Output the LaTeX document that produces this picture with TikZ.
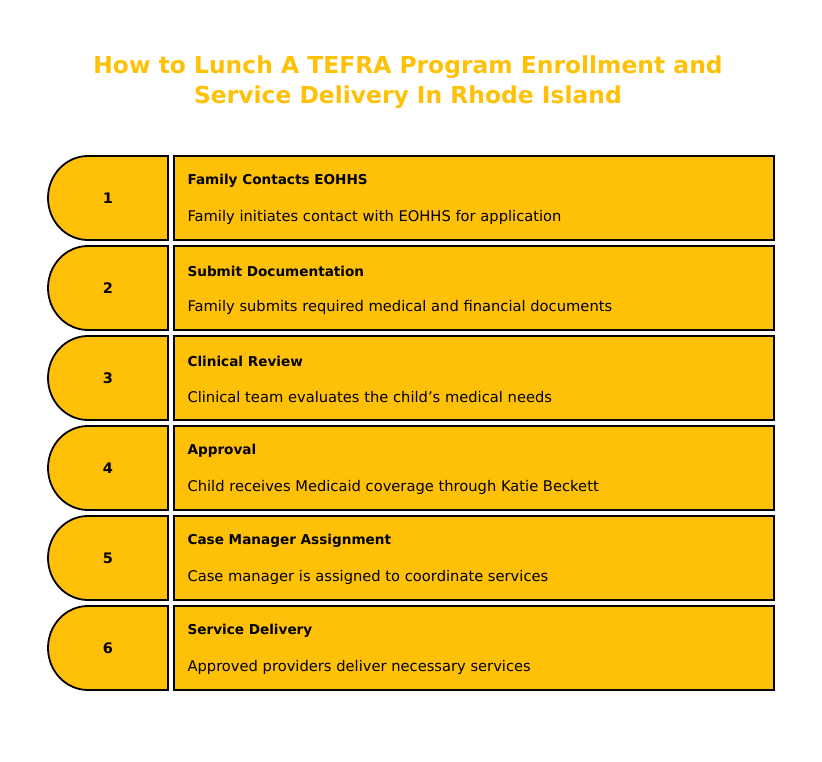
\documentclass[tikz,border=0pt]{standalone}
\usepackage{fontspec}
\setmainfont{DejaVu Sans}
\definecolor{amber}{HTML}{FFC107}
\definecolor{titlec}{HTML}{FFC107}
\begin{document}
\begin{tikzpicture}[x=1pt,y=-1pt,
  numbox/.style={draw=black,line width=1.8pt,fill=amber},
  stepbox/.style={draw=black,line width=1.8pt,fill=amber},
  numtxt/.style={font=\fontsize{14.5}{16}\selectfont\bfseries},
  headtxt/.style={font=\fontsize{13.6}{15}\selectfont\bfseries,anchor=west},
  desctxt/.style={font=\fontsize{14.7}{16}\selectfont,anchor=west}]
\useasboundingbox (0,0) rectangle (822,762);
\node[font=\fontsize{23.4}{30}\selectfont\bfseries,text=titlec,align=center] (title) at (408,82)
  {How to Lunch A TEFRA Program Enrollment and\\Service Delivery In Rhode Island};
\foreach \i/\h/\d [count=\k from 0] in {
  1/Family Contacts EOHHS/Family initiates contact with EOHHS for application,
  2/Submit Documentation/Family submits required medical and financial documents,
  3/Clinical Review/Clinical team evaluates the child's medical needs,
  4/Approval/Child receives Medicaid coverage through Katie Beckett,
  5/Case Manager Assignment/Case manager is assigned to coordinate services,
  6/Service Delivery/Approved providers deliver necessary services}{
  \pgfmathsetmacro{\t}{156+90*\k}
  \pgfmathsetmacro{\b}{\t+84}
  \pgfmathsetmacro{\m}{\t+42}
  \draw[numbox] (168,\t) -- (88,\t) arc[start angle=270,end angle=90,x radius=40,y radius=42] -- (168,\b) -- cycle;
  \node[numtxt] (n\i) at (108,\m) {\i};
  \draw[stepbox] (174,\t) rectangle (774,\b);
  \node[headtxt] (h\i) at (184,\t+25) {\h};
  \node[desctxt] (d\i) at (184,\t+61) {\d};
}
\end{tikzpicture}
\end{document}
